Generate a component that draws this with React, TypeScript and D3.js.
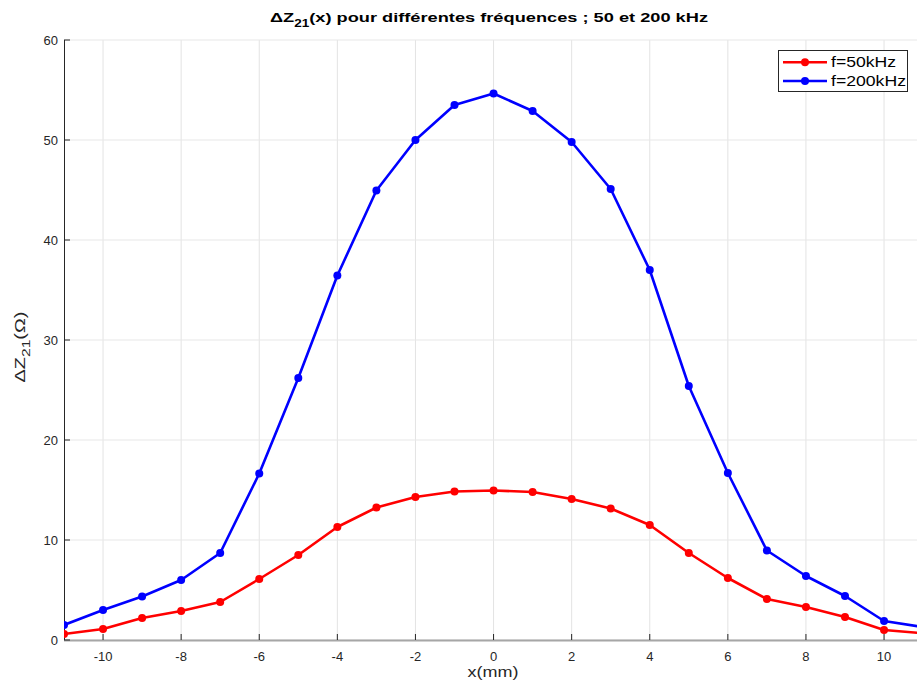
import React from "react";
import * as d3 from "d3";

const xValues = [-11, -10, -9, -8, -7, -6, -5, -4, -3, -2, -1, 0, 1, 2, 3, 4, 5, 6, 7, 8, 9, 10, 11];
const red50 = [0.6, 1.1, 2.2, 2.9, 3.8, 6.1, 8.5, 11.3, 13.25, 14.3, 14.85, 14.95, 14.8, 14.1, 13.15, 11.5, 8.7, 6.2, 4.1, 3.3, 2.3, 1.0, 0.67];
const blue200 = [1.5, 3.0, 4.35, 6.0, 8.7, 16.65, 26.2, 36.45, 44.95, 50.0, 53.5, 54.65, 52.9, 49.8, 45.1, 37.0, 25.4, 16.7, 8.95, 6.4, 4.4, 1.9, 1.3];
const xTicks = [-10, -8, -6, -4, -2, 0, 2, 4, 6, 8, 10];
const yTicks = [0, 10, 20, 30, 40, 50, 60];
const seriesNames = ["f=50kHz", "f=200kHz"];
const seriesColors = ["#ff0000", "#0000ff"];
const legendTextLen = [65, 75];

const W = 917;
const H = 682;
const left = 64;
const top = 40;
const bottom = 640;

export default function App() {
  const x = d3.scaleLinear().domain([-11, 11]).range([left, left + 22 * 39.05]);
  const y = d3.scaleLinear().domain([0, 60]).range([bottom, top]);
  const line = d3
    .line<[number, number]>()
    .x((d) => x(d[0]))
    .y((d) => y(d[1]));
  const series = [red50, blue200].map((vals) => xValues.map((xv, i) => [xv, vals[i]] as [number, number]));
  const font = "'Liberation Sans', Arial, Helvetica, sans-serif";
  return (
    <svg
      width={W}
      height={H}
      style={{ position: "fixed", left: 0, top: 0, background: "#fff" }}
      fontFamily={font}
    >
      <defs>
        <clipPath id="plotclip">
          <rect x={left} y={top - 6} width={W - left} height={bottom - top + 12} />
        </clipPath>
      </defs>
      <rect x={0} y={0} width={W} height={H} fill="#fff" />
      {/* grid */}
      {xTicks.map((t) => (
        <line key={"gx" + t} x1={x(t)} x2={x(t)} y1={top} y2={bottom} stroke="#e3e3e3" strokeWidth={1} />
      ))}
      {yTicks.map((t) => (
        <line key={"gy" + t} x1={left} x2={W} y1={y(t)} y2={y(t)} stroke="#e8e8e8" strokeWidth={1.2} />
      ))}
      {/* axes */}
      <line x1={left} x2={W} y1={bottom + 0.5} y2={bottom + 0.5} stroke="#a6a6a6" strokeWidth={2} />
      <line x1={left + 0.5} x2={left + 0.5} y1={top} y2={bottom} stroke="#262626" strokeWidth={1} />
      {xTicks.map((t) => (
        <g key={"tx" + t}>
          <line x1={x(t)} x2={x(t)} y1={bottom} y2={bottom - 6} stroke="#262626" strokeWidth={1} />
          <text x={x(t)} y={bottom + 21} textAnchor="middle" fontSize={13} fill="#262626">
            {t}
          </text>
        </g>
      ))}
      {yTicks.map((t) => (
        <g key={"ty" + t}>
          <line x1={left} x2={left + 6} y1={y(t)} y2={y(t)} stroke="#262626" strokeWidth={1} />
          <text x={left - 6} y={y(t) + 4.5} textAnchor="end" fontSize={13} fill="#262626">
            {t}
          </text>
        </g>
      ))}
      {/* series */}
      <g clipPath="url(#plotclip)">
        {series.map((pts, si) => (
          <g key={"s" + si}>
            <path d={line(pts) || ""} fill="none" stroke={seriesColors[si]} strokeWidth={2.6} strokeLinejoin="round" />
            {pts.map((p, i) => (
              <circle key={i} cx={x(p[0])} cy={y(p[1])} r={4} fill={seriesColors[si]} />
            ))}
          </g>
        ))}
      </g>
      {/* title */}
      <text
        x={489}
        y={22}
        textAnchor="middle"
        fontSize={13.5}
        fontWeight="bold"
        fill="#000"
        textLength={438}
        lengthAdjust="spacingAndGlyphs"
      >
        ΔZ<tspan dy={5} fontSize={10}>21</tspan>
        <tspan dy={-5}>(x) pour différentes fréquences ; 50 et 200 kHz</tspan>
      </text>
      {/* x label */}
      <text
        x={493}
        y={677}
        textAnchor="middle"
        fontSize={14}
        fill="#262626"
        textLength={51}
        lengthAdjust="spacingAndGlyphs"
      >
        x(mm)
      </text>
      {/* y label */}
      <text
        transform={`translate(25,347) rotate(-90)`}
        textAnchor="middle"
        fontSize={14}
        fill="#262626"
        textLength={71}
        lengthAdjust="spacingAndGlyphs"
      >
        ΔZ<tspan dy={5} fontSize={11}>21</tspan>
        <tspan dy={-5}>(Ω)</tspan>
      </text>
      {/* legend */}
      <g>
        <rect x={778.5} y={50.5} width={129} height={41} fill="#fff" stroke="#262626" strokeWidth={1} />
        {seriesNames.map((name, i) => {
          const yy = 62.3 + i * 18.7;
          return (
            <g key={name}>
              <line x1={783} x2={827} y1={yy} y2={yy} stroke={seriesColors[i]} strokeWidth={2.6} />
              <circle cx={805} cy={yy} r={4} fill={seriesColors[i]} />
              <text
                x={831}
                y={yy + 4.8}
                fontSize={14}
                fill="#000"
                textLength={legendTextLen[i]}
                lengthAdjust="spacingAndGlyphs"
              >
                {name}
              </text>
            </g>
          );
        })}
      </g>
    </svg>
  );
}
